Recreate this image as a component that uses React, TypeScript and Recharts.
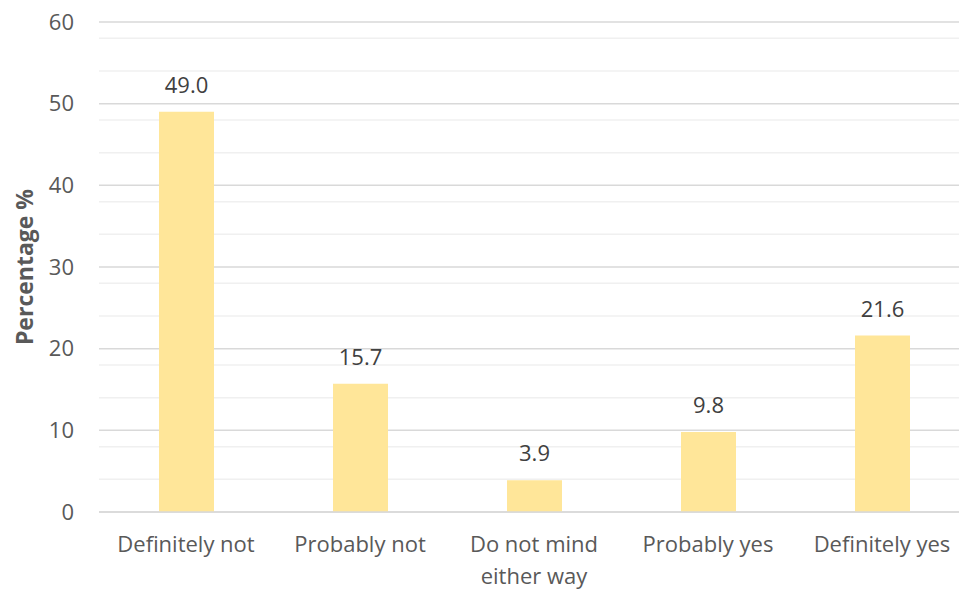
import { BarChart, Bar, XAxis, YAxis, CartesianGrid, LabelList, Label } from "recharts";

const categories = ["Definitely not", "Probably not", "Do not mind either way", "Probably yes", "Definitely yes"];
const percentages = [49.0, 15.7, 3.9, 9.8, 21.6];
const majorTicks = [0, 10, 20, 30, 40, 50, 60];
const minorTicks = [2, 4, 6, 8, 12, 14, 16, 18, 22, 24, 26, 28, 32, 34, 36, 38, 42, 44, 46, 48, 52, 54, 56, 58];

const data = categories.map((c, i) => ({ name: c, value: percentages[i] }));

const FONT = "'Open Sans', 'Liberation Sans', sans-serif";
const TEXT = "#595959";

// greedy word wrap, roughly like the source's label wrapping
function wrap(label: string, maxChars = 14) {
  const lines: string[] = [];
  let cur = "";
  for (const w of label.split(" ")) {
    const next = cur ? cur + " " + w : w;
    if (next.length > maxChars && cur) {
      lines.push(cur);
      cur = w;
    } else cur = next;
  }
  if (cur) lines.push(cur);
  return lines;
}

const CategoryTick = ({ x, y, payload }: any) => (
  <text x={x} y={y} textAnchor="middle" fill={TEXT} fontSize={22} fontFamily={FONT}>
    {wrap(payload.value).map((line, i) => (
      <tspan key={i} x={x} y={y + 40 + i * 32}>
        {line}
      </tspan>
    ))}
  </text>
);

const AxisTitle = ({ viewBox }: any) => {
  const cy = viewBox.y + viewBox.height / 2;
  return (
    <text
      x={24}
      y={cy}
      transform={`rotate(-90 24 ${cy})`}
      textAnchor="middle"
      dominantBaseline="central"
      fill={TEXT}
      fontSize={23}
      fontWeight="bold"
      fontFamily={FONT}
    >
      Percentage %
    </text>
  );
};

export default function App() {
  return (
    <div style={{ position: "absolute", left: 0, top: 0, width: 959, height: 589, overflow: "hidden", background: "#fff" }}>
      <BarChart
        width={969}
        height={589}
        data={data}
        margin={{ top: 22, right: 0, bottom: 0, left: 0 }}
      >
        <CartesianGrid vertical={false} horizontalValues={minorTicks} stroke="#f0f0f0" strokeWidth={1.5} />
        <CartesianGrid vertical={false} horizontalValues={majorTicks} stroke="#d9d9d9" strokeWidth={1.5} />
        <XAxis
          dataKey="name"
          height={77}
          axisLine={{ stroke: "#d9d9d9", strokeWidth: 1.5 }}
          tickLine={false}
          tickSize={0}
          tickMargin={0}
          interval={0}
          tick={<CategoryTick />}
        />
        <YAxis
          width={99}
          domain={[0, 60]}
          ticks={majorTicks}
          axisLine={false}
          tickLine={false}
          tickMargin={19}
          tick={{ fill: TEXT, fontSize: 22, fontFamily: FONT }}
        >
          <Label content={<AxisTitle />} />
        </YAxis>
        <Bar dataKey="value" fill="#ffe699" barSize={55} isAnimationActive={false}>
          <LabelList
            dataKey="value"
            position="top"
            offset={19}
            formatter={(v: any) => Number(v).toFixed(1)}
            fill="#404040"
            fontSize={22}
            fontFamily={FONT}
          />
        </Bar>
      </BarChart>
    </div>
  );
}
